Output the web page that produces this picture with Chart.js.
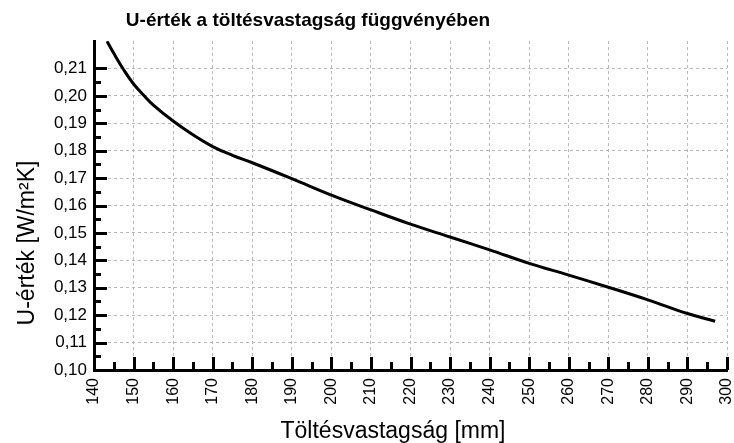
<!DOCTYPE html>
<html>
<head>
<meta charset="utf-8">
<script src="https://cdn.jsdelivr.net/npm/chart.js@4"></script>
<style>
  html, body { margin: 0; padding: 0; background: #fff; }
  #wrap { width: 734px; height: 443px; }
</style>
</head>
<body>
<div id="wrap"><canvas id="uChart" width="734" height="443"></canvas></div>
<script>
// values
const thickness = [143.3, 145, 147.5, 150, 152.5, 155, 160, 165, 170, 175, 180, 190, 200, 210, 220, 230, 240, 250, 260, 270, 280, 290, 297];
const uValues = [0.2199, 0.2155, 0.2095, 0.2043, 0.2003, 0.1966, 0.1908, 0.1858, 0.1815, 0.1783, 0.1756, 0.1698, 0.1638, 0.1584, 0.1532, 0.1485, 0.1438, 0.1389, 0.1346, 0.1302, 0.1256, 0.1206, 0.1178];

const chartTitle = 'U-érték a töltésvastagság függvényében';
const xTitle = 'Töltésvastagság [mm]';
const yTitle = 'U-érték [W/m²K]';
const xRange = [140, 300];
const yRange = [0.10, 0.22];

const FONT = '"Liberation Sans", Arial, sans-serif';

function isMajorY(v) {
    return Math.abs(Math.round(v * 100) - v * 100) < 1e-6;
}

// inward tick marks + titles
const decorations = {
    id: 'decorations',
    afterDraw(chart) {
        const ctx = chart.ctx;
        const xs = chart.scales.x;
        const ys = chart.scales.y;
        const left = chart.chartArea.left;
        const bottom = chart.chartArea.bottom;

        ctx.save();
        ctx.setLineDash([]);
        ctx.strokeStyle = '#000';
        ctx.lineWidth = 3;
        ctx.lineCap = 'butt';

        for (let i = 0; i <= 22; i++) {
            const v = 0.10 + i * 0.005;
            if (v > 0.2101) break;
            const y = Math.round(ys.getPixelForValue(v)) + 0.5;
            const len = isMajorY(v) ? 13 : 7;
            ctx.beginPath();
            ctx.moveTo(left, y);
            ctx.lineTo(left + len, y);
            ctx.stroke();
        }
        for (let v = 145; v <= 300; v += 5) {
            const x = Math.round(xs.getPixelForValue(v)) + 0.5;
            const len = v % 10 === 0 ? 13 : 8;
            ctx.beginPath();
            ctx.moveTo(x, bottom);
            ctx.lineTo(x, bottom - len);
            ctx.stroke();
        }

        ctx.fillStyle = '#000';
        ctx.textAlign = 'center';
        ctx.textBaseline = 'alphabetic';
        ctx.font = 'bold 19px ' + FONT;
        ctx.fillText(chartTitle, 308, 26);

        ctx.font = '23px ' + FONT;
        ctx.fillText(xTitle, 393, 438);

        ctx.translate(34, 243);
        ctx.rotate(-Math.PI / 2);
        ctx.fillText(yTitle, 0, 0);
        ctx.restore();
    }
};

const points = thickness.map((t, i) => ({ x: t, y: uValues[i] }));

new Chart(document.getElementById('uChart').getContext('2d'), {
    type: 'line',
    data: {
        datasets: [{
            data: points,
            borderColor: '#000',
            borderWidth: 3,
            pointRadius: 0,
            fill: false,
            tension: 0.4
        }]
    },
    options: {
        responsive: false,
        animation: false,
        layout: {
            padding: { top: 41, right: 7, left: 0, bottom: 0 }
        },
        plugins: {
            legend: { display: false },
            title: { display: false },
            tooltip: { enabled: false }
        },
        scales: {
            x: {
                type: 'linear',
                min: xRange[0],
                max: xRange[1],
                afterFit: function (scale) {
                    scale.height = 73;
                    scale.paddingLeft = 0;
                    scale.paddingRight = 0;
                },
                ticks: {
                    stepSize: 5,
                    autoSkip: false,
                    minRotation: 90,
                    maxRotation: 90,
                    padding: 8,
                    color: '#000',
                    font: { family: FONT, size: 16 },
                    callback: function (v) { return v % 10 === 0 ? String(v) : ''; }
                },
                grid: {
                    drawTicks: false,
                    lineWidth: 1,
                    color: function (c) {
                        const v = c.tick ? c.tick.value : 0;
                        return (v % 10 === 0 && v > 140) ? '#b8b8b8' : 'rgba(0,0,0,0)';
                    }
                },
                border: { display: true, color: '#000', width: 3, dash: [3, 3] }
            },
            y: {
                type: 'linear',
                min: yRange[0],
                max: yRange[1],
                afterFit: function (scale) {
                    scale.width = 94;
                    scale.paddingTop = 0;
                    scale.paddingBottom = 0;
                },
                ticks: {
                    stepSize: 0.005,
                    autoSkip: false,
                    padding: 7,
                    color: '#000',
                    font: { family: FONT, size: 17 },
                    callback: function (v) {
                        return (isMajorY(v) && v < 0.2149) ? v.toFixed(2).replace('.', ',') : '';
                    }
                },
                grid: {
                    drawTicks: false,
                    lineWidth: 1,
                    color: function (c) {
                        const v = c.tick ? c.tick.value : 0;
                        return (isMajorY(v) && v > 0.1001 && v < 0.2149) ? '#b8b8b8' : 'rgba(0,0,0,0)';
                    }
                },
                border: { display: true, color: '#000', width: 3, dash: [3, 3] }
            }
        }
    },
    plugins: [decorations]
});
</script>
</body>
</html>
